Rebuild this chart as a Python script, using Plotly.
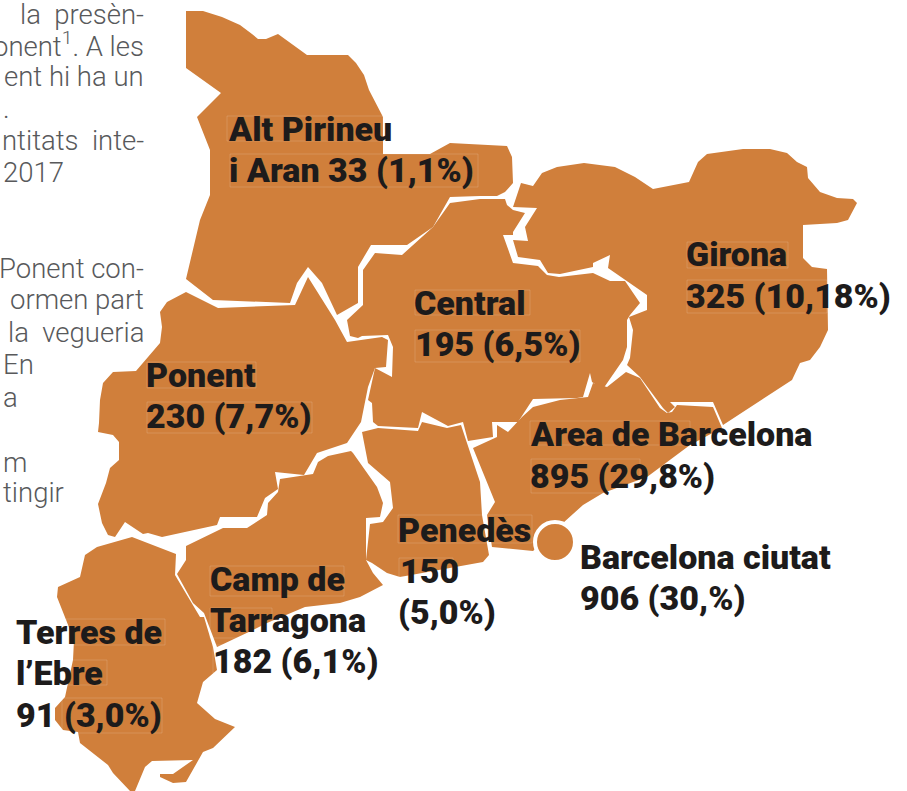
import plotly.graph_objects as go

# Region outlines (image pixels: x right, y down)
ALT_PIRINEU = [(186,11),(203,11),(222,17),(240,25),(252,34),(258,39),(266,39),(278,34),(307,55),(348,55),(356,63),(364,75),(369,90),(383,117),(383,154),(430,154),(450,143),(507,146),(512,157),(513,183),(505,192),(497,196),(480,196),(450,197),(433,227),(407,245),(371,245),(358,267),(358,303),(337,315),(322,283),(308,267),(297,283),(290,303),(213,300),(186,279),(200,220),(210,195),(210,150),(197,117),(221,93),(186,68)]
PONENT = [(186,292),(218,308),(295,305),(308,277),(335,320),(347,342),(382,337),(388,340),(386,367),(375,368),(368,387),(361,422),(347,443),(317,453),(304,475),(275,472),(278,489),(265,498),(257,517),(220,517),(217,525),(162,537),(148,533),(143,534),(125,522),(115,537),(108,535),(102,523),(98,504),(106,483),(110,468),(119,460),(119,442),(113,435),(98,432),(99,423),(100,400),(103,383),(113,372),(136,371),(160,343),(162,327),(160,312),(167,302)]
CENTRAL = [(347,320),(363,305),(363,270),(375,253),(402,255),(433,227),(450,203),(480,199),(505,199),(507,205),(513,210),(525,213),(513,232),(513,235),(503,235),(513,263),(538,266),(547,275),(559,277),(593,273),(610,281),(625,281),(640,303),(630,315),(627,320),(627,347),(623,360),(603,389),(592,382),(590,373),(583,397),(577,398),(533,399),(518,422),(492,422),(493,437),(468,441),(463,422),(448,426),(422,412),(418,428),(378,426),(373,422),(372,403),(368,400),(375,368),(392,377),(393,347),(388,335),(362,336),(358,338),(350,336)]
GIRONA = [(521,183),(533,186),(542,173),(557,167),(584,163),(615,167),(635,177),(653,189),(689,182),(698,162),(707,154),(743,149),(770,149),(787,153),(797,162),(807,167),(808,178),(820,192),(837,198),(853,199),(857,203),(848,220),(837,223),(803,225),(803,258),(812,267),(827,269),(828,330),(820,347),(810,360),(800,363),(792,380),(723,425),(713,402),(670,402),(675,407),(668,413),(663,408),(640,377),(627,365),(630,358),(633,330),(629,317),(647,310),(647,295),(625,280),(608,268),(610,255),(593,263),(593,267),(560,274),(548,273),(540,260),(518,257),(513,240),(528,241),(525,227),(537,208),(513,207)]
AREA_BARCELONA = [(626,372),(640,378),(660,408),(667,413),(672,412),(677,405),(713,407),(722,428),(690,445),(647,477),(603,493),(583,505),(563,523),(533,551),(492,547),(487,515),(495,502),(487,483),(473,448),(497,437),(497,425),(508,432),(522,417),(533,407),(560,400),(588,397),(593,383),(607,387)]
PENEDES = [(362,432),(378,428),(418,431),(422,422),(447,428),(461,425),(480,482),(482,515),(489,555),(483,562),(400,577),(387,573),(372,563),(366,560),(370,524),(383,522),(393,508),(390,482),(368,463)]
CAMP_TARRAGONA = [(351,451),(328,456),(318,462),(313,474),(280,479),(278,492),(268,503),(267,515),(247,528),(223,528),(186,546),(186,560),(177,574),(193,603),(204,613),(217,647),(253,630),(267,623),(305,607),(340,603),(360,597),(383,585),(373,573),(366,560),(366,518),(380,517),(383,503),(377,487),(353,453)]
TERRES_EBRE = [(132,537),(176,554),(175,575),(200,617),(204,617),(213,647),(217,670),(203,682),(197,703),(215,719),(235,727),(213,748),(203,752),(186,782),(173,783),(160,777),(160,774),(173,774),(193,760),(152,761),(145,767),(135,791),(130,791),(113,773),(108,765),(80,743),(78,732),(63,730),(55,720),(55,708),(65,697),(73,660),(74,640),(63,613),(57,597),(58,587),(80,577),(85,555),(97,547)]

REGIONS = [ALT_PIRINEU, PONENT, CENTRAL, GIRONA, AREA_BARCELONA, PENEDES, CAMP_TARRAGONA, TERRES_EBRE]
REGION_NAMES = ["Alt Pirineu i Aran", "Ponent", "Central", "Girona", "Area de Barcelona", "Penedès", "Camp de Tarragona", "Terres de l’Ebre"]

LABELS = ["Alt Pirineu", "i Aran 33 (1,1%)", "Girona", "325 (10,18%)", "Central", "195 (6,5%)",
          "Ponent", "230 (7,7%)", "Area de Barcelona", "895 (29,8%)", "Barcelona ciutat", "906 (30,%)",
          "Penedès", "150", "(5,0%)", "Camp de", "Tarragona", "182 (6,1%)", "Terres de", "l’Ebre", "91 (3,0%)"]
LABEL_X = [226,227,684,684,412,413,144,144,528,528,578,578,396,398,396,208,208,211,14,14,14]
LABEL_Y = [129,170,254,296,303,344,375,416,434,476,557,598,530,571,612,579,620,661,632,673,715]

BODY_RIGHT = [("la  presèn-",14),("onent<sup>1</sup>. A les",44),("ent hi ha un",76),("ntitats  inte-",140),
              ("Ponent con-",268),("ormen part",299),("la  vegueria",332)]
BODY_LEFT = [(".",108),("2017",172),("En",364),("a",397),("m",462),("tingir",492)]

BOXES = [(227,116,383,141),(230,154,478,187),(687,242,788,268),(687,280,827,313),(415,290,530,315),(415,330,580,362),
         (147,362,256,388),(147,402,312,433),(530,421,690,445),(531,459,640,493),(398,515,532,543),(399,558,453,577),
         (210,566,344,596),(210,608,272,638),(213,645,232,673),(66,619,165,645),(62,660,107,685),(62,698,162,733)]

ORANGE = "#d07f3b"
fig = go.Figure()
for name, region in zip(REGION_NAMES, REGIONS):
    fig.add_trace(go.Scatter(x=[p[0] for p in region]+[region[0][0]], y=[p[1] for p in region]+[region[0][1]],
                             mode="lines", fill="toself", fillcolor=ORANGE, line=dict(width=0, color=ORANGE),
                             name=name, hoverinfo="name"))
fig.add_trace(go.Scatter(x=[555], y=[542], mode="markers", name="Barcelona ciutat",
                         marker=dict(size=40, color=ORANGE, line=dict(width=4, color="white"))))

shapes = [dict(type="rect", x0=b[0], y0=b[1], x1=b[2], y1=b[3], line=dict(width=1, color="rgba(255,255,255,0.15)"),
               fillcolor="rgba(0,0,0,0)", layer="above") for b in BOXES]

ann = []
for t, x, y in zip(LABELS, LABEL_X, LABEL_Y):
    ann.append(dict(x=x, y=y, text=t, xanchor="left", yanchor="middle", showarrow=False, xref="x", yref="y",
                    font=dict(family="Roboto", size=34, color="#1d1b1b", weight=900)))
for t, y in BODY_RIGHT:
    ann.append(dict(x=146, y=y, text=t, xanchor="right", yanchor="middle", showarrow=False,
                    font=dict(family="Roboto", size=27.5, color="#58595b", weight=300)))
for t, y in BODY_LEFT:
    ann.append(dict(x=1, y=y, text=t, xanchor="left", yanchor="middle", showarrow=False,
                    font=dict(family="Roboto", size=27.5, color="#58595b", weight=300)))

fig.update_layout(width=907, height=791, margin=dict(l=0, r=0, t=0, b=0), showlegend=False,
                  paper_bgcolor="white", plot_bgcolor="white",
                  xaxis=dict(range=[0,907], visible=False, fixedrange=True),
                  yaxis=dict(range=[791,0], visible=False, fixedrange=True),
                  shapes=shapes, annotations=ann)
fig.write_html("out.html", config=dict(displayModeBar=False),
               post_script="document.body.style.margin='0';document.body.style.overflow='hidden';")
